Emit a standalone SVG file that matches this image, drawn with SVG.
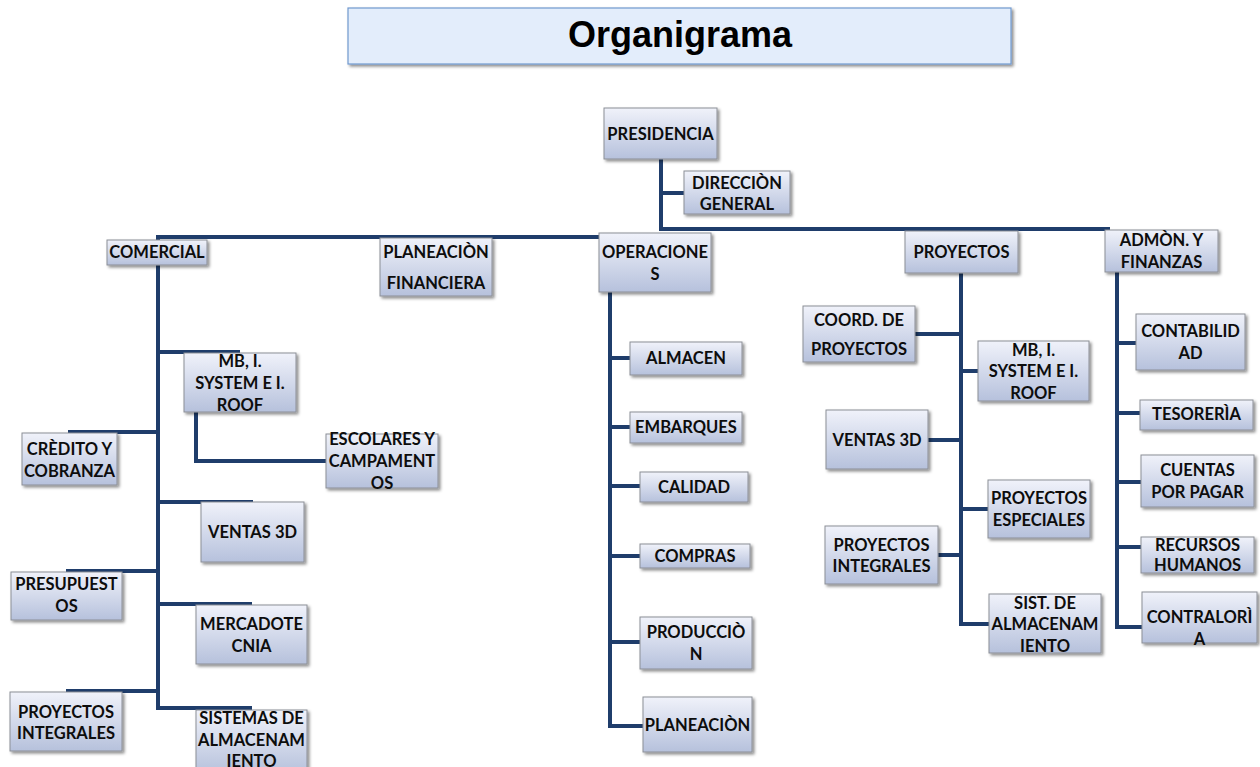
<svg xmlns="http://www.w3.org/2000/svg" width="1260" height="767" viewBox="0 0 1260 767">
<style>
.box{fill:url(#g);stroke:#8c8f96;stroke-width:1;filter:url(#sh)}
.t{font-family:Lato,"Open Sans","Liberation Sans",sans-serif;font-weight:700;font-size:16.5px;text-anchor:middle;fill:#0d0d0d}
.c{fill:none;stroke:#1f3d6b;stroke-width:4}
.title{font-family:"Liberation Sans",Arial,sans-serif;font-weight:700;font-size:36px;text-anchor:middle;fill:#000}
</style>
<defs>
<linearGradient id="g" x1="0" y1="0" x2="0" y2="1">
<stop offset="0" stop-color="#f0f2fa"/>
<stop offset="1" stop-color="#b6c1dc"/>
</linearGradient>
<filter id="sh" x="-20%" y="-20%" width="140%" height="150%">
<feDropShadow dx="2" dy="2" stdDeviation="1.5" flood-color="#000" flood-opacity="0.45"/>
</filter>
</defs>
<rect width="1260" height="767" fill="#fff"/>
<g id="title">
<rect x="348" y="8" width="663" height="56" fill="#e3edfb" stroke="#7199cf" stroke-width="1.2" filter="url(#sh)"/>
<text class="title" x="680" y="47">Organigrama</text>
</g>
<g id="connectors">
<path class="c" d="M661,159 V229 H1108 V232"/>
<path class="c" d="M661,193 H684"/>
<path class="c" d="M158,240 V237 H600"/>
<path class="c" d="M158,265 V710"/>
<path class="c" d="M158,352 H240 M158,432 H68 M158,502 H253 M158,571 H66 M158,604 H252 M158,691 H66 M158,708 H252"/>
<path class="c" d="M196,412 V461 H326"/>
<path class="c" d="M610,292 V726 H643 M610,358 H630 M610,427 H630 M610,486 H640 M610,556 H640 M610,642 H640"/>
<path class="c" d="M961,273 V624 H989 M915,334 H961 M961,371 H978 M928,440 H961 M961,509 H988 M938,555 H961"/>
<path class="c" d="M1117,272 V627 H1142 M1117,343 H1136 M1117,413 H1140 M1117,482 H1141 M1117,547 H1141"/>
</g>
<g id="presidencia"><rect class="box" x="604" y="108" width="113" height="51"/><text class="t" x="660.5" y="140">PRESIDENCIA</text></g>
<g id="direccion"><rect class="box" x="684" y="171" width="106" height="43"/><text class="t" x="737" y="189">DIRECCIÒN</text><text class="t" x="737" y="210">GENERAL</text></g>
<g id="comercial"><rect class="box" x="107" y="240" width="100" height="25"/><text class="t" x="157" y="258">COMERCIAL</text></g>
<g id="planeacion-fin"><rect class="box" x="380" y="238" width="112" height="58"/><text class="t" x="436" y="258">PLANEACIÒN</text><text class="t" x="436" y="289">FINANCIERA</text></g>
<g id="operaciones"><rect class="box" x="599" y="233" width="112" height="59"/><text class="t" x="655" y="258">OPERACIONE</text><text class="t" x="655" y="280">S</text></g>
<g id="proyectos"><rect class="box" x="905" y="231" width="113" height="42"/><text class="t" x="961.5" y="258">PROYECTOS</text></g>
<g id="admon"><rect class="box" x="1105" y="230" width="113" height="42"/><text class="t" x="1161.5" y="246">ADMÒN. Y</text><text class="t" x="1161.5" y="268">FINANZAS</text></g>
<g id="mb-left"><rect class="box" x="184" y="353" width="112" height="59"/><text class="t" x="240" y="367">MB, I.</text><text class="t" x="240" y="389">SYSTEM E I.</text><text class="t" x="240" y="411">ROOF</text></g>
<g id="credito"><rect class="box" x="22" y="433" width="95" height="52"/><text class="t" x="69.5" y="455">CRÈDITO Y</text><text class="t" x="69.5" y="477">COBRANZA</text></g>
<g id="escolares"><rect class="box" x="326" y="434" width="112" height="54"/><text class="t" x="382" y="445">ESCOLARES Y</text><text class="t" x="382" y="467">CAMPAMENT</text><text class="t" x="382" y="489">OS</text></g>
<g id="ventas-left"><rect class="box" x="201" y="502" width="103" height="60"/><text class="t" x="252.5" y="538">VENTAS 3D</text></g>
<g id="presupuestos"><rect class="box" x="11" y="572" width="111" height="48"/><text class="t" x="66.5" y="590">PRESUPUEST</text><text class="t" x="66.5" y="612">OS</text></g>
<g id="mercadotecnia"><rect class="box" x="196" y="605" width="111" height="59"/><text class="t" x="251.5" y="630">MERCADOTE</text><text class="t" x="251.5" y="652">CNIA</text></g>
<g id="proy-int-left"><rect class="box" x="10" y="692" width="112" height="59"/><text class="t" x="66" y="718">PROYECTOS</text><text class="t" x="66" y="739">INTEGRALES</text></g>
<g id="sistemas-left"><rect class="box" x="196" y="710" width="111" height="64"/><text class="t" x="251.5" y="724">SISTEMAS DE</text><text class="t" x="251.5" y="746">ALMACENAM</text><text class="t" x="251.5" y="767">IENTO</text></g>
<g id="almacen"><rect class="box" x="630" y="342" width="112" height="33"/><text class="t" x="686" y="364">ALMACEN</text></g>
<g id="embarques"><rect class="box" x="630" y="412" width="112" height="31"/><text class="t" x="686" y="433">EMBARQUES</text></g>
<g id="calidad"><rect class="box" x="640" y="472" width="108" height="30"/><text class="t" x="694" y="493">CALIDAD</text></g>
<g id="compras"><rect class="box" x="640" y="544" width="110" height="24"/><text class="t" x="695" y="562">COMPRAS</text></g>
<g id="produccion"><rect class="box" x="640" y="617" width="112" height="52"/><text class="t" x="696" y="638">PRODUCCIÒ</text><text class="t" x="696" y="660">N</text></g>
<g id="planeacion"><rect class="box" x="643" y="697" width="109" height="55"/><text class="t" x="697.5" y="731">PLANEACIÒN</text></g>
<g id="coord"><rect class="box" x="803" y="306" width="112" height="56"/><text class="t" x="859" y="326">COORD. DE</text><text class="t" x="859" y="355">PROYECTOS</text></g>
<g id="mb-right"><rect class="box" x="978" y="341" width="111" height="60"/><text class="t" x="1033.5" y="356">MB, I.</text><text class="t" x="1033.5" y="377">SYSTEM E I.</text><text class="t" x="1033.5" y="399">ROOF</text></g>
<g id="ventas-right"><rect class="box" x="826" y="410" width="102" height="59"/><text class="t" x="877" y="446">VENTAS 3D</text></g>
<g id="proy-esp"><rect class="box" x="988" y="480" width="102" height="58"/><text class="t" x="1039" y="504">PROYECTOS</text><text class="t" x="1039" y="526">ESPECIALES</text></g>
<g id="proy-int-right"><rect class="box" x="825" y="526" width="113" height="58"/><text class="t" x="881.5" y="551">PROYECTOS</text><text class="t" x="881.5" y="572">INTEGRALES</text></g>
<g id="sist-alm"><rect class="box" x="989" y="594" width="112" height="59"/><text class="t" x="1045" y="609">SIST. DE</text><text class="t" x="1045" y="630">ALMACENAM</text><text class="t" x="1045" y="652">IENTO</text></g>
<g id="contabilidad"><rect class="box" x="1136" y="314" width="109" height="56"/><text class="t" x="1190.5" y="337">CONTABILID</text><text class="t" x="1190.5" y="359">AD</text></g>
<g id="tesoreria"><rect class="box" x="1140" y="400" width="113" height="30"/><text class="t" x="1196.5" y="420">TESORERÌA</text></g>
<g id="cuentas"><rect class="box" x="1141" y="455" width="113" height="52"/><text class="t" x="1197.5" y="476">CUENTAS</text><text class="t" x="1197.5" y="498">POR PAGAR</text></g>
<g id="recursos"><rect class="box" x="1141" y="537" width="113" height="36"/><text class="t" x="1197.5" y="551">RECURSOS</text><text class="t" x="1197.5" y="571">HUMANOS</text></g>
<g id="contraloria"><rect class="box" x="1142" y="592" width="115" height="51"/><text class="t" x="1199.5" y="623">CONTRALORÌ</text><text class="t" x="1199.5" y="645">A</text></g>
</svg>
